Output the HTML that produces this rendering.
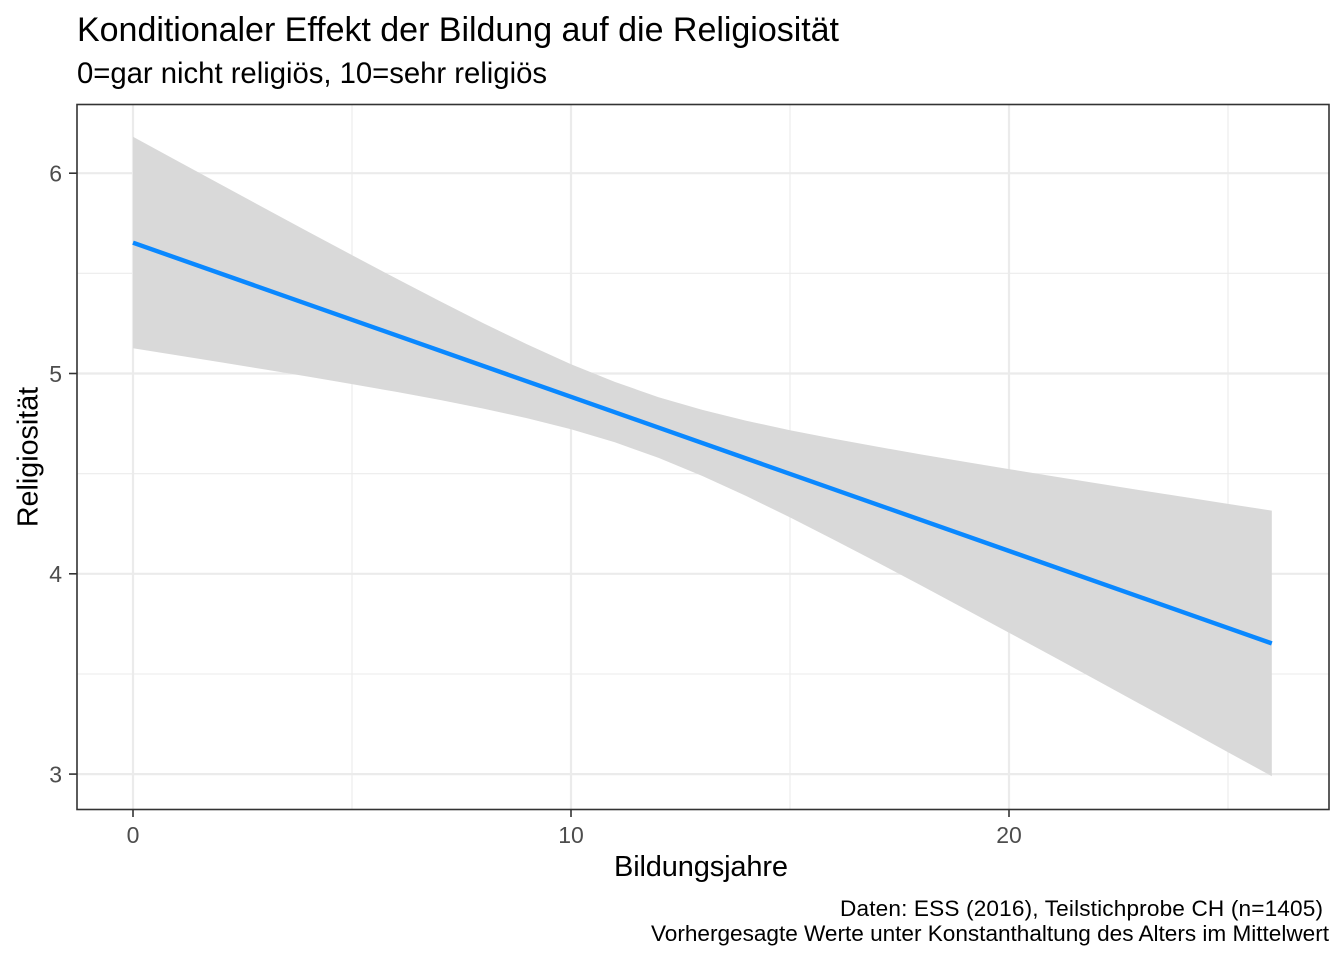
<!DOCTYPE html>
<html>
<head>
<meta charset="utf-8">
<style>
  html, body { margin: 0; padding: 0; background: #ffffff; }
  svg { display: block; }
  text { font-family: "Liberation Sans", Arial, sans-serif; }
</style>
</head>
<body>
<svg width="1344" height="960" viewBox="0 0 1344 960" xmlns="http://www.w3.org/2000/svg">
  <rect x="0" y="0" width="1344" height="960" fill="#ffffff"/>

  <!-- Title / subtitle -->
  <text x="77" y="41" font-size="34" fill="#000000" textLength="762" lengthAdjust="spacing">Konditionaler Effekt der Bildung auf die Religiosität</text>
  <text x="77" y="83" font-size="29.3" fill="#000000" textLength="470" lengthAdjust="spacing">0=gar nicht religiös, 10=sehr religiös</text>

  <!-- Panel background -->
  <rect x="77" y="104.5" width="1252" height="705" fill="#ffffff"/>

  <!-- Minor gridlines -->
  <g stroke="#ebebeb" stroke-width="1.1" fill="none">
    <line x1="77" x2="1329" y1="273.3" y2="273.3"/>
    <line x1="77" x2="1329" y1="473.7" y2="473.7"/>
    <line x1="77" x2="1329" y1="674" y2="674"/>
    <line x1="352" x2="352" y1="104.5" y2="809.5"/>
    <line x1="790" x2="790" y1="104.5" y2="809.5"/>
    <line x1="1228" x2="1228" y1="104.5" y2="809.5"/>
  </g>
  <!-- Major gridlines -->
  <g stroke="#ebebeb" stroke-width="2.2" fill="none">
    <line x1="77" x2="1329" y1="173.2" y2="173.2"/>
    <line x1="77" x2="1329" y1="373.5" y2="373.5"/>
    <line x1="77" x2="1329" y1="573.8" y2="573.8"/>
    <line x1="77" x2="1329" y1="774.1" y2="774.1"/>
    <line x1="133" x2="133" y1="104.5" y2="809.5"/>
    <line x1="571" x2="571" y1="104.5" y2="809.5"/>
    <line x1="1009" x2="1009" y1="104.5" y2="809.5"/>
  </g>

  <!-- Confidence ribbon -->
  <polygon fill="#d9d9d9" points="
    133,136.7 176.8,160.6 220.6,184.4 264.4,208.1 308.2,231.7 352,255.1 395.8,278.3 439.6,301.0
    483.4,323.2 527.2,344.4 571,364.2 614.8,381.9 658.6,397.2 702.4,409.9 746.2,420.7 790,430.2
    833.8,438.8 877.6,446.8 921.4,454.5 965.2,461.9 1009,469.1 1052.8,476.2 1096.6,483.2 1140.4,490.2
    1184.2,497.0 1228,503.9 1271.8,510.6
    1271.8,776.2 1228,752.2 1184.2,728.1 1140.4,704.2 1096.6,680.3 1052.8,656.4 1009,632.7 965.2,609.1
    921.4,585.6 877.6,562.5 833.8,539.7 790,517.4 746.2,496.0 702.4,476.0 658.6,457.9 614.8,442.3
    571,429.2 527.2,418.2 483.4,408.6 439.6,399.9 395.8,391.8 352,384.1 308.2,376.6 264.4,369.4
    220.6,362.3 176.8,355.2 133,348.3"/>

  <!-- Prediction line -->
  <line x1="133" y1="242.7" x2="1271.8" y2="643.4" stroke="#0a88ff" stroke-width="4.4" stroke-linecap="butt"/>

  <!-- Panel border -->
  <rect x="77" y="104.5" width="1252" height="705" fill="none" stroke="#333333" stroke-width="1.6"/>

  <!-- Axis ticks -->
  <g stroke="#333333" stroke-width="1.6">
    <line x1="69" x2="77" y1="173.2" y2="173.2"/>
    <line x1="69" x2="77" y1="373.5" y2="373.5"/>
    <line x1="69" x2="77" y1="573.8" y2="573.8"/>
    <line x1="69" x2="77" y1="774.1" y2="774.1"/>
    <line x1="133" x2="133" y1="809.5" y2="817"/>
    <line x1="571" x2="571" y1="809.5" y2="817"/>
    <line x1="1009" x2="1009" y1="809.5" y2="817"/>
  </g>

  <!-- Y tick labels -->
  <g font-size="23" fill="#4d4d4d" text-anchor="end">
    <text x="62" y="181.5">6</text>
    <text x="62" y="381.8">5</text>
    <text x="62" y="582.1">4</text>
    <text x="62" y="782.4">3</text>
  </g>
  <!-- X tick labels -->
  <g font-size="23" fill="#4d4d4d" text-anchor="middle">
    <text x="133" y="843">0</text>
    <text x="571" y="843">10</text>
    <text x="1009" y="843">20</text>
  </g>

  <!-- Axis titles -->
  <text x="614" y="876" font-size="29" fill="#000000" textLength="174" lengthAdjust="spacing">Bildungsjahre</text>
  <text transform="translate(37.5,457) rotate(-90)" font-size="28.7" fill="#000000" text-anchor="middle">Religiosität</text>

  <!-- Caption -->
  <g font-size="22.6" fill="#000000">
    <text x="840" y="916" textLength="483" lengthAdjust="spacing">Daten: ESS (2016), Teilstichprobe CH (n=1405)</text>
    <text x="651" y="941" textLength="678" lengthAdjust="spacing">Vorhergesagte Werte unter Konstanthaltung des Alters im Mittelwert</text>
  </g>
</svg>
</body>
</html>
